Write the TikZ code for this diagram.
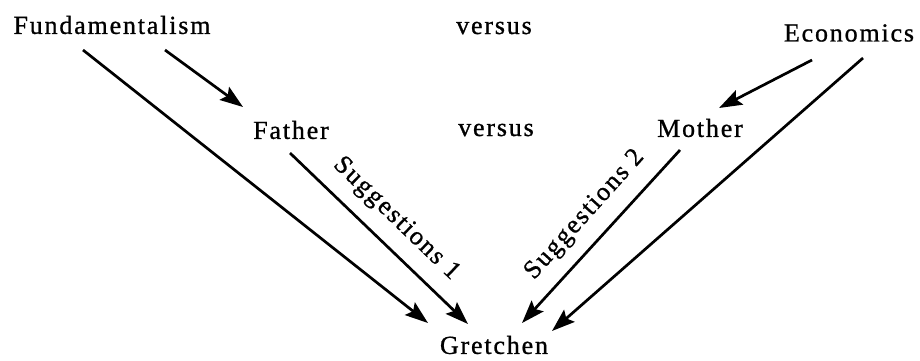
\documentclass[tikz,border=0pt]{standalone}
\usepackage{fontspec}
\setmainfont{Liberation Serif}[LetterSpace=7,FakeBold=0.9]
\usetikzlibrary{arrows.meta}
\begin{document}
\begin{tikzpicture}[x=1pt,y=-1pt,
  lbl/.style={inner sep=0pt,font=\fontsize{26}{29}\selectfont},
  arr/.style={line width=2.7pt,-{Stealth[length=23pt,width=16pt,inset=4pt]}}]
\useasboundingbox (0,0) rectangle (920,360);
\node[lbl] (fund) at (112,25) {Fundamentalism};
\node[lbl] (vs1) at (494,28) {versus};
\node[lbl] (econ) at (849,33) {Economics};
\node[lbl] (father) at (291,130) {Father};
\node[lbl] (vs2) at (496,130) {versus};
\node[lbl] (mother) at (700,128) {Mother};
\node[lbl] (gret) at (494,345) {Gretchen};
\draw[arr] ([shift={(-29,25)}]fund.center) -- ([shift={(-66,-22)}]gret.center);
\draw[arr] ([shift={(53,25)}]fund.center) -- ([shift={(-48,-23)}]father.center);
\draw[arr] ([shift={(-1,23)}]father.center) -- ([shift={(-26,-21)}]gret.center);
\draw[arr] ([shift={(-20,22)}]mother.center) -- ([shift={(28,-22)}]gret.center);
\draw[arr] ([shift={(14,25)}]econ.center) -- ([shift={(58,-14)}]gret.center);
\draw[arr] ([shift={(-37,27)}]econ.center) -- ([shift={(19,-20)}]mother.center);
\node[lbl,rotate=-44] (s1) at (396,219) {Suggestions 1};
\node[lbl,rotate=48] (s2) at (585,215) {Suggestions 2};
\end{tikzpicture}
\end{document}
